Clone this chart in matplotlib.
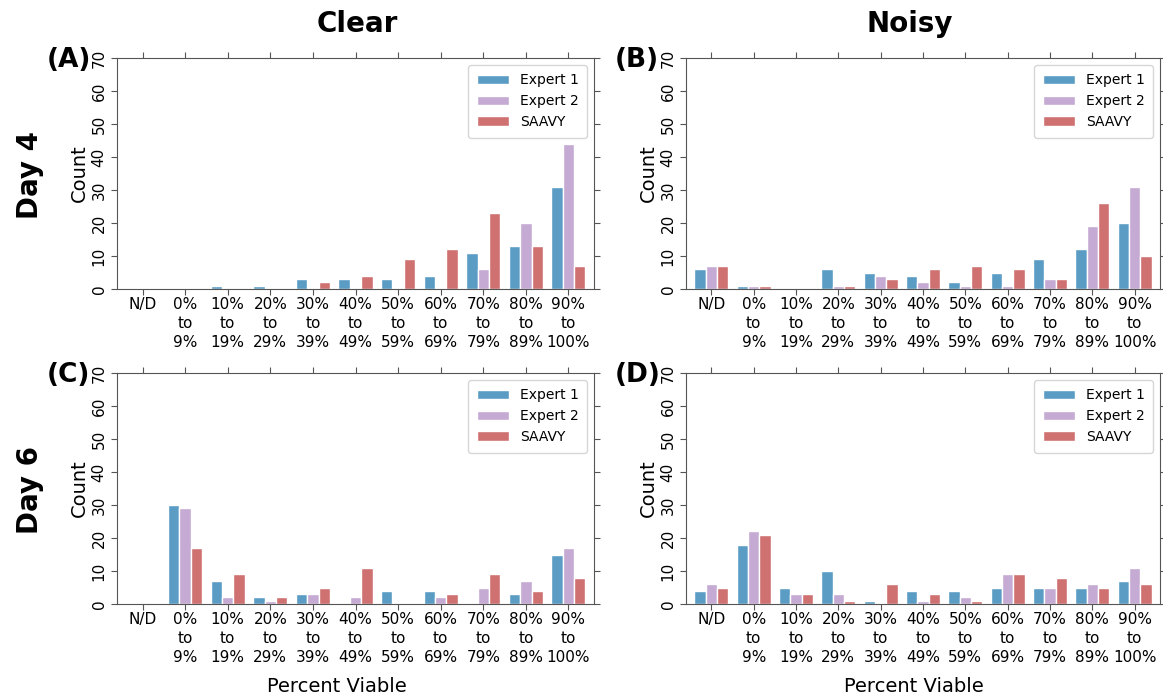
import matplotlib
matplotlib.use("Agg")
import matplotlib.pyplot as plt
import numpy as np

categories = ["N/D", "0%\nto\n9%", "10%\nto\n19%", "20%\nto\n29%", "30%\nto\n39%",
              "40%\nto\n49%", "50%\nto\n59%", "60%\nto\n69%", "70%\nto\n79%",
              "80%\nto\n89%", "90%\nto\n100%"]
series_names = ["Expert 1", "Expert 2", "SAAVY"]

# Day 4, clear
clear_d4_e1 = [0, 0, 1, 1, 3, 3, 3, 4, 11, 13, 31]
clear_d4_e2 = [0, 0, 0, 0, 0, 0, 0, 0, 6, 20, 44]
clear_d4_sa = [0, 0, 0, 0, 2, 4, 9, 12, 23, 13, 7]
# Day 4, noisy
noisy_d4_e1 = [6, 1, 0, 6, 5, 4, 2, 5, 9, 12, 20]
noisy_d4_e2 = [7, 1, 0, 1, 4, 2, 1, 1, 3, 19, 31]
noisy_d4_sa = [7, 1, 0, 1, 3, 6, 7, 6, 3, 26, 10]
# Day 6, clear
clear_d6_e1 = [0, 30, 7, 2, 3, 0, 4, 4, 0, 3, 15]
clear_d6_e2 = [0, 29, 2, 1, 3, 2, 0, 2, 5, 7, 17]
clear_d6_sa = [0, 17, 9, 2, 5, 11, 0, 3, 9, 4, 8]
# Day 6, noisy
noisy_d6_e1 = [4, 18, 5, 10, 1, 4, 4, 5, 5, 5, 7]
noisy_d6_e2 = [6, 22, 3, 3, 0, 1, 2, 9, 5, 6, 11]
noisy_d6_sa = [5, 21, 3, 1, 6, 3, 1, 9, 8, 5, 6]

colors = ["#5b9cc4", "#c5aad4", "#cf7171"]

W, H = 1163, 697
fig = plt.figure(figsize=(W / 100, H / 100), dpi=100)


def box(l, t, r, b):
    return [l / W, (H - b) / H, (r - l) / W, (b - t) / H]


panels = [
    (box(117, 58, 594, 289), [clear_d4_e1, clear_d4_e2, clear_d4_sa]),
    (box(686, 58, 1160, 289), [noisy_d4_e1, noisy_d4_e2, noisy_d4_sa]),
    (box(117, 373, 594, 604), [clear_d6_e1, clear_d6_e2, clear_d6_sa]),
    (box(686, 373, 1160, 604), [noisy_d6_e1, noisy_d6_e2, noisy_d6_sa]),
]

x = np.arange(len(categories))
w = 0.8 / 3
for rect, data in panels:
    ax = fig.add_axes(rect)
    for i, vals in enumerate(data):
        ax.bar(x + (i - 1) * w, vals, width=w, color=colors[i],
               edgecolor="white", linewidth=1, label=series_names[i])
    ax.set_xlim(-0.6, len(categories) - 0.4)
    ax.set_ylim(0, 70)
    ax.set_yticks(range(0, 71, 10))
    ax.set_xticks(x)
    ax.set_xticklabels(categories, fontsize=11, linespacing=1.3)
    ax.tick_params(axis="y", labelsize=11, labelrotation=90, right=True,
                   color="#555555", length=4)
    ax.tick_params(axis="x", top=True, color="#555555", length=4, pad=2)
    for lab in ax.get_yticklabels():
        lab.set_va("center")
    for s in ax.spines.values():
        s.set_color("#555555")
    ax.set_ylabel("Count", fontsize=14, labelpad=2)
    ax.legend(loc="upper right", fontsize=10, handlelength=2.3,
              borderpad=0.6, labelspacing=0.5)

fig.text(357 / W, 1 - 24 / H, "Clear", fontsize=20, fontweight="bold",
         ha="center", va="center")
fig.text(910 / W, 1 - 24 / H, "Noisy", fontsize=20, fontweight="bold",
         ha="center", va="center")
fig.text(30 / W, 1 - 175 / H, "Day 4", fontsize=20, fontweight="bold",
         rotation=90, ha="center", va="center")
fig.text(30 / W, 1 - 490 / H, "Day 6", fontsize=20, fontweight="bold",
         rotation=90, ha="center", va="center")
for lab, px, py in [("(A)", 47, 60), ("(B)", 615, 60), ("(C)", 47, 375), ("(D)", 615, 375)]:
    fig.text(px / W, 1 - py / H, lab, fontsize=19, fontweight="bold",
             ha="left", va="center")
fig.text(337 / W, 1 - 686 / H, "Percent Viable", fontsize=14,
         ha="center", va="center")
fig.text(914 / W, 1 - 686 / H, "Percent Viable", fontsize=14,
         ha="center", va="center")

fig.savefig("out.png", dpi=100)
